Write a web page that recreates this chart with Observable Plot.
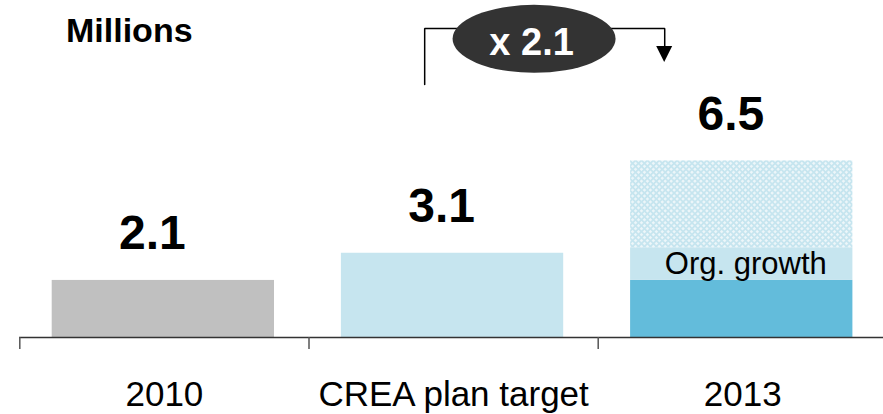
<!DOCTYPE html>
<html>
<head>
<meta charset="utf-8">
<script src="https://cdn.jsdelivr.net/npm/d3@7"></script>
<script src="https://cdn.jsdelivr.net/npm/@observablehq/plot@0.6"></script>
<style>
  html, body { margin: 0; padding: 0; background: #fff; }
  #chart svg { display: block; }
</style>
</head>
<body>
<div id="chart"></div>
<script>
// Categories along the x axis and their totals (millions)
const categories = ["2010", "CREA plan target", "2013"];
const totals = [2.1, 3.1, 6.5];
const barFills = ["#c0c0c0", "#c6e5ef"];

// 2013 split into stacked parts
const parts2013 = ["Base", "Org. growth", "Other growth"];
const partValues2013 = [2.1, 1.2, 3.2];
const partFills2013 = ["#63bcdb", "#c6e5ef", "url(#hatch)"];

const unitLabel = "Millions";

// Growth bracket from the plan target to 2013 (x in category-index units, y in millions)
const bracketX = [1.40, 1.40, 2.23, 2.23];
const bracketY = [9.31, 11.37, 11.37, 10.71];
const arrowTip = [{x: 2.23, y: 10.12}];
const badge = [{x: 1.78, y: 10.97}];

const font = "'Liberation Sans', Arial, Helvetica, sans-serif";

// One rectangle per bar segment
const segments = [];
categories.forEach((c, i) => {
  if (i < barFills.length) segments.push({i, y1: 0, y2: totals[i], fill: barFills[i]});
});
let acc = 0;
parts2013.forEach((p, k) => {
  segments.push({i: 2, y1: acc, y2: acc + partValues2013[k], fill: partFills2013[k], name: p});
  acc += partValues2013[k];
});
const orgSegment = segments.filter(s => s.name === "Org. growth");
const growthLabel = "x " + (totals[2] / totals[1]).toFixed(1);

// Cross-hatch pattern for the upper 2013 segment
function hatchDefs() {
  const g = d3.create("svg:g");
  const p = g.append("defs").append("pattern")
    .attr("id", "hatch")
    .attr("patternUnits", "userSpaceOnUse")
    .attr("width", 4.2).attr("height", 4.2)
    .attr("patternTransform", "rotate(45)");
  p.append("rect").attr("width", 4.2).attr("height", 4.2).attr("fill", "#c6e5ef");
  p.append("rect").attr("x", 0.9).attr("y", 0.9).attr("width", 2.4).attr("height", 2.4).attr("fill", "#eef7fa");
  return g.node();
}

// Dark badge and the filled arrowhead of the bracket
function bracketDecor(index, scales) {
  const {x, y} = scales;
  const g = d3.create("svg:g");
  const tipX = x(arrowTip[0].x), tipY = y(arrowTip[0].y);
  const baseY = y(bracketY[bracketY.length - 1]);
  g.append("path")
    .attr("d", `M${tipX - 8},${baseY}L${tipX + 8},${baseY}L${tipX},${tipY}Z`)
    .attr("fill", "#000");
  g.append("ellipse")
    .attr("cx", x(badge[0].x)).attr("cy", y(badge[0].y))
    .attr("rx", 81.5).attr("ry", 34)
    .attr("fill", "#333333");
  return g.node();
}

const chart = Plot.plot({
  width: 883,
  height: 414,
  marginLeft: 19,
  marginRight: 0,
  marginTop: 0,
  marginBottom: 77,
  x: {domain: [0, 3], range: [19.3, 886.9]},
  y: {domain: [0, 12.4], axis: null},
  color: {type: "identity"},
  style: {fontFamily: font, background: "#fff"},
  marks: [
    hatchDefs,
    Plot.rectY(segments, {
      x1: d => d.i, x2: d => d.i + 1, y1: "y1", y2: "y2",
      fill: "fill", insetLeft: 32.4, insetRight: 34.5
    }),
    Plot.ruleY([0], {stroke: "#333", strokeWidth: 1.5}),
    Plot.axisX({ticks: [0, 1, 2], tickSize: 12, tickFormat: () => "", label: null, stroke: "#555", strokeWidth: 1.5}),
    Plot.line(bracketX.map((v, k) => ({x: v, y: bracketY[k]})), {
      x: "x", y: "y", stroke: "#000", strokeWidth: 1.5, strokeLinejoin: "miter"
    }),
    bracketDecor,
    Plot.text(badge, {
      x: "x", y: "y", text: () => growthLabel, fill: "#fff",
      fontSize: 38, fontWeight: "bold", dx: -3, dy: 3
    }),
    Plot.text(categories, {
      x: (d, i) => i + 0.5, y: (d, i) => totals[i], text: (d, i) => totals[i].toFixed(1),
      lineAnchor: "bottom", dx: -12, dy: -31,
      fontSize: 48, fontWeight: "bold", fill: "#000"
    }),
    Plot.text(categories, {
      x: (d, i) => i + 0.5, y: () => 0, text: d => d,
      lineAnchor: "bottom", dy: 68.5, fontSize: 35, fill: "#000"
    }),
    Plot.text(orgSegment, {
      x: d => d.i + 0.5, y: d => (d.y1 + d.y2) / 2, text: "name",
      dx: 3, fontSize: 31, fill: "#000"
    }),
    Plot.text([unitLabel], {
      frameAnchor: "top-left", text: d => d, textAnchor: "start",
      lineAnchor: "bottom", dx: 46.5, dy: 41.7,
      fontSize: 34, fontWeight: "bold", fill: "#000"
    })
  ]
});

document.getElementById("chart").appendChild(chart);
</script>
</body>
</html>
